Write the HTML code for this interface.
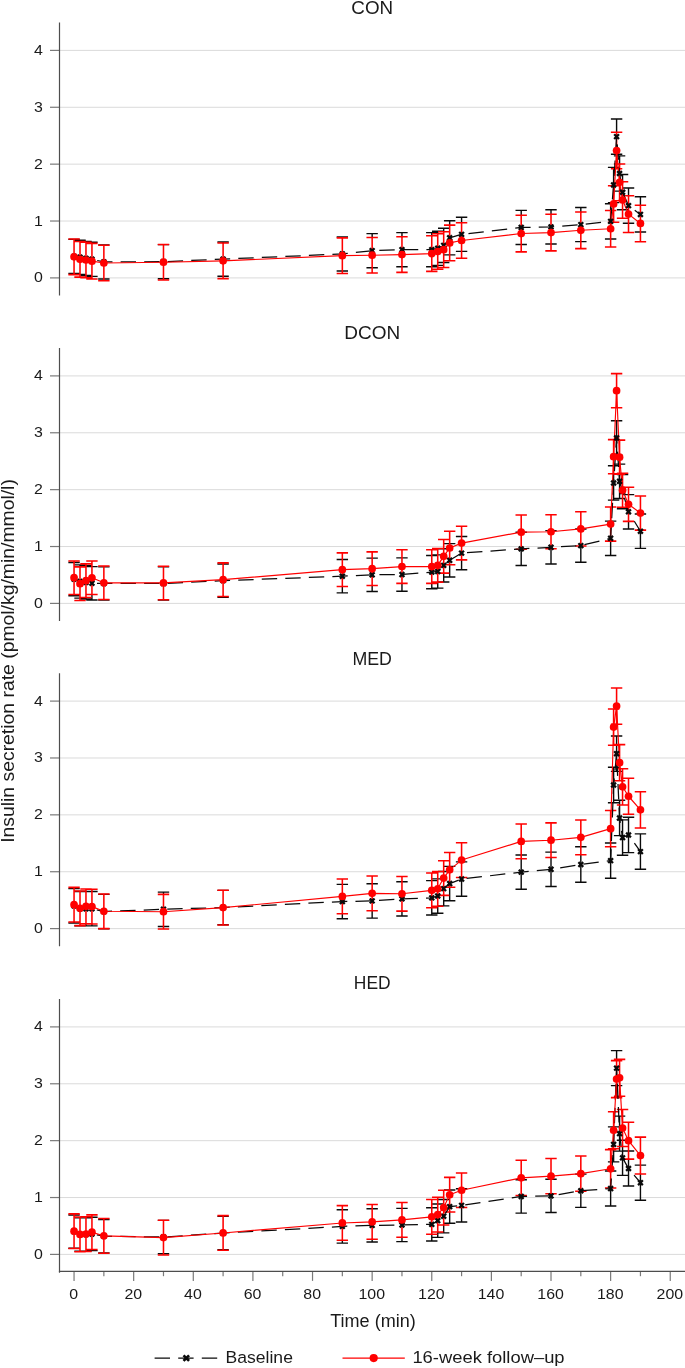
<!DOCTYPE html>
<html lang="en">
<head>
<meta charset="utf-8">
<title>Insulin secretion rate</title>
<style>
html,body{margin:0;padding:0;background:#fff;}
body{width:685px;height:1368px;overflow:hidden;}
svg{display:block;will-change:transform;}
text{font-family:"Liberation Sans", sans-serif;fill:#1a1a1a;}
.tk{font-size:14.6px;}
.tt{font-size:18.6px;}
.al{font-size:17.5px;}
.yl{font-size:18px;}
.lg{font-size:17.4px;}
</style>
</head>
<body>
<svg width="685" height="1368" viewBox="0 0 685 1368">
<rect x="0" y="0" width="685" height="1368" fill="#ffffff"/>
<g>
<g stroke="#d6d6d6" stroke-width="0.9" fill="none">
<line x1="59.5" y1="277.9" x2="685" y2="277.9"/>
<line x1="59.5" y1="221.02" x2="685" y2="221.02"/>
<line x1="59.5" y1="164.15" x2="685" y2="164.15"/>
<line x1="59.5" y1="107.27" x2="685" y2="107.27"/>
<line x1="59.5" y1="50.4" x2="685" y2="50.4"/>
</g>
<g stroke="#7a7a7a" stroke-width="1.2" fill="none">
<line x1="50" y1="277.9" x2="59.5" y2="277.9"/>
<line x1="50" y1="221.02" x2="59.5" y2="221.02"/>
<line x1="50" y1="164.15" x2="59.5" y2="164.15"/>
<line x1="50" y1="107.27" x2="59.5" y2="107.27"/>
<line x1="50" y1="50.4" x2="59.5" y2="50.4"/>
</g>
<line x1="59.5" y1="22.53" x2="59.5" y2="295.53" stroke="#4d4d4d" stroke-width="1.2"/>
<text class="tk" transform="translate(42.8 282.4) scale(1.09 1)" text-anchor="end">0</text>
<text class="tk" transform="translate(42.8 225.52) scale(1.09 1)" text-anchor="end">1</text>
<text class="tk" transform="translate(42.8 168.65) scale(1.09 1)" text-anchor="end">2</text>
<text class="tk" transform="translate(42.8 111.77) scale(1.09 1)" text-anchor="end">3</text>
<text class="tk" transform="translate(42.8 54.9) scale(1.09 1)" text-anchor="end">4</text>
<text class="tt" x="372.2" y="13.7" text-anchor="middle" textLength="41.8" lengthAdjust="spacingAndGlyphs">CON</text>
<path stroke="#0a0a0a" fill="none" stroke-width="1.4" d="M68.35 239.34H79.75M68.35 273.46H79.75M74.05 239.34V239.4M74.31 240.25H85.71M74.31 274.37H85.71M80.01 240.25V241.9M80.27 241.39H91.67M80.27 275.51H91.67M85.97 241.39V242.58M86.24 242.24H97.64M86.24 276.36H97.64M91.94 242.24V243.78M98.16 244.91H109.56M98.16 279.04H109.56M103.86 244.91V245.6M157.78 244.63H169.18M157.78 278.75H169.18M163.48 244.63V244.8M217.4 242.07H228.8M217.4 276.19H228.8M223.1 242.07V243.44M336.64 236.89H348.04M336.64 271.02H348.04M342.34 236.89V238.26M366.45 233.65H377.85M366.45 267.78H377.85M372.15 233.65V237.8M396.26 232.63H407.66M396.26 266.75H407.66M401.96 232.63V237.18M426.07 232.63H437.47M426.07 266.75H437.47M431.77 232.63V236.16M432.03 231.26H443.43M432.03 265.39H443.43M437.73 231.26V234.11M437.99 228.3H449.39M437.99 262.43H449.39M443.69 228.3V232.23M443.96 220.74H455.36M443.96 254.87H455.36M449.66 220.74V225.52M455.88 217.27H467.28M455.88 251.4H467.28M461.58 217.27V223.07M515.5 210.39H526.9M515.5 244.51H526.9M521.2 210.39V215.62M545.31 209.82H556.71M545.31 243.95H556.71M551.01 209.82V214.66M575.12 207.55H586.52M575.12 241.67H586.52M580.82 207.55V212.38M604.93 203.73H616.33M604.93 239H616.33M610.63 203.73V210.85M607.91 167.33H619.31M607.91 202.6H619.31M613.61 167.33V186.05M610.89 118.99H622.29M610.89 154.25H622.29M616.59 118.99V132.59M613.87 155.85H625.27M613.87 191.11H625.27M619.57 155.85V164.44M616.85 174.56H628.25M616.85 209.82H628.25M622.55 174.56V182.07M622.82 188.04H634.22M622.82 223.3H634.22M628.52 188.04V196.17M634.74 196.8H646.14M634.74 232.06H646.14M640.44 196.8V205.56"/>
<path stroke="#ff0000" fill="none" stroke-width="1.55" d="M68.35 239H79.75M68.35 274.6H79.75M74.05 239V274.6M74.31 241.5H85.71M74.31 277.1H85.71M80.01 241.5V277.1M80.27 242.18H91.67M80.27 277.79H91.67M85.97 242.18V277.79M86.24 243.38H97.64M86.24 278.98H97.64M91.94 243.38V278.98M98.16 245.2H109.56M98.16 280.8H109.56M103.86 245.2V280.8M157.78 244.4H169.18M157.78 280H169.18M163.48 244.4V280M217.4 243.04H228.8M217.4 278.64H228.8M223.1 243.04V278.64M336.64 237.86H348.04M336.64 273.46H348.04M342.34 237.86V273.46M366.45 237.4H377.85M366.45 273.01H377.85M372.15 237.4V273.01M396.26 236.78H407.66M396.26 272.38H407.66M401.96 236.78V272.38M426.07 235.76H437.47M426.07 271.36H437.47M431.77 235.76V271.36M432.03 233.71H443.43M432.03 269.31H443.43M437.73 233.71V269.31M437.99 231.83H449.39M437.99 267.44H449.39M443.69 231.83V267.44M443.96 225.12H455.36M443.96 260.72H455.36M449.66 225.12V260.72M455.88 222.67H467.28M455.88 258.28H467.28M461.58 222.67V258.28M515.5 215.22H526.9M515.5 251.85H526.9M521.2 215.22V251.85M545.31 214.26H556.71M545.31 250.88H556.71M551.01 214.26V250.88M575.12 211.98H586.52M575.12 248.61H586.52M580.82 211.98V248.61M604.93 210.45H616.33M604.93 247.07H616.33M610.63 210.45V247.07M607.91 185.65H619.31M607.91 222.28H619.31M613.61 185.65V222.28M610.89 132.19H622.29M610.89 168.81H622.29M616.59 132.19V168.81M613.87 164.04H625.27M613.87 200.66H625.27M619.57 164.04V200.66M616.85 181.67H628.25M616.85 218.29H628.25M622.55 181.67V218.29M622.82 195.77H634.22M622.82 232.4H634.22M628.52 195.77V232.4M634.74 205.16H646.14M634.74 241.78H646.14M640.44 205.16V241.78"/>
<g stroke="#0a0a0a" fill="none">
<polyline stroke-width="1.25" stroke-linejoin="round" stroke-dasharray="15.4 8.15" points="74.05,256.4 80.01,257.31 85.97,258.45 91.94,259.3 103.86,261.97 163.48,261.69 223.1,259.13 342.34,253.96 372.15,250.71 401.96,249.69 431.77,249.69 437.73,248.32 443.69,245.37 449.66,237.8 461.58,234.33 521.2,227.45 551.01,226.88 580.82,224.61 610.63,221.37 613.61,184.97 616.59,136.62 619.57,173.48 622.55,192.19 628.52,205.67"/>
<line stroke-width="1.25" stroke-dasharray="15.4 8.15" stroke-dashoffset="15.85" x1="628.52" y1="205.67" x2="640.44" y2="214.43"/>
</g>
<g stroke="#ff0000" fill="none">
<polyline stroke-width="1.15" stroke-linejoin="round" points="74.05,256.8 80.01,259.3 85.97,259.98 91.94,261.18 103.86,263 163.48,262.2 223.1,260.84 342.34,255.66 372.15,255.21 401.96,254.58 431.77,253.56 437.73,251.51 443.69,249.63 449.66,242.92 461.58,240.48 521.2,233.54 551.01,232.57 580.82,230.3 610.63,228.76 613.61,203.96 616.59,150.5 619.57,182.35 622.55,199.98 628.52,214.09 640.44,223.47"/>
</g>
<g fill="#0a0a0a" stroke="none">
<polygon points="74.05,258 75.65,259.6 77.25,258 75.65,256.4 77.25,254.8 75.65,253.2 74.05,254.8 72.45,253.2 70.85,254.8 72.45,256.4 70.85,258 72.45,259.6"/><polygon points="80.01,258.91 81.61,260.51 83.21,258.91 81.61,257.31 83.21,255.71 81.61,254.11 80.01,255.71 78.41,254.11 76.81,255.71 78.41,257.31 76.81,258.91 78.41,260.51"/><polygon points="85.97,260.05 87.57,261.65 89.17,260.05 87.57,258.45 89.17,256.85 87.57,255.25 85.97,256.85 84.37,255.25 82.77,256.85 84.37,258.45 82.77,260.05 84.37,261.65"/><polygon points="91.94,260.9 93.54,262.5 95.14,260.9 93.54,259.3 95.14,257.7 93.54,256.1 91.94,257.7 90.34,256.1 88.74,257.7 90.34,259.3 88.74,260.9 90.34,262.5"/><polygon points="103.86,263.57 105.46,265.17 107.06,263.57 105.46,261.97 107.06,260.37 105.46,258.77 103.86,260.37 102.26,258.77 100.66,260.37 102.26,261.97 100.66,263.57 102.26,265.17"/><polygon points="163.48,263.29 165.08,264.89 166.68,263.29 165.08,261.69 166.68,260.09 165.08,258.49 163.48,260.09 161.88,258.49 160.28,260.09 161.88,261.69 160.28,263.29 161.88,264.89"/><polygon points="223.1,260.73 224.7,262.33 226.3,260.73 224.7,259.13 226.3,257.53 224.7,255.93 223.1,257.53 221.5,255.93 219.9,257.53 221.5,259.13 219.9,260.73 221.5,262.33"/><polygon points="342.34,255.56 343.94,257.16 345.54,255.56 343.94,253.96 345.54,252.36 343.94,250.76 342.34,252.36 340.74,250.76 339.14,252.36 340.74,253.96 339.14,255.56 340.74,257.16"/><polygon points="372.15,252.31 373.75,253.91 375.35,252.31 373.75,250.71 375.35,249.11 373.75,247.51 372.15,249.11 370.55,247.51 368.95,249.11 370.55,250.71 368.95,252.31 370.55,253.91"/><polygon points="401.96,251.29 403.56,252.89 405.16,251.29 403.56,249.69 405.16,248.09 403.56,246.49 401.96,248.09 400.36,246.49 398.76,248.09 400.36,249.69 398.76,251.29 400.36,252.89"/><polygon points="431.77,251.29 433.37,252.89 434.97,251.29 433.37,249.69 434.97,248.09 433.37,246.49 431.77,248.09 430.17,246.49 428.57,248.09 430.17,249.69 428.57,251.29 430.17,252.89"/><polygon points="437.73,249.92 439.33,251.52 440.93,249.92 439.33,248.32 440.93,246.72 439.33,245.12 437.73,246.72 436.13,245.12 434.53,246.72 436.13,248.32 434.53,249.92 436.13,251.52"/><polygon points="443.69,246.97 445.29,248.57 446.89,246.97 445.29,245.37 446.89,243.77 445.29,242.17 443.69,243.77 442.09,242.17 440.49,243.77 442.09,245.37 440.49,246.97 442.09,248.57"/><polygon points="449.66,239.4 451.26,241 452.86,239.4 451.26,237.8 452.86,236.2 451.26,234.6 449.66,236.2 448.06,234.6 446.46,236.2 448.06,237.8 446.46,239.4 448.06,241"/><polygon points="461.58,235.93 463.18,237.53 464.78,235.93 463.18,234.33 464.78,232.73 463.18,231.13 461.58,232.73 459.98,231.13 458.38,232.73 459.98,234.33 458.38,235.93 459.98,237.53"/><polygon points="521.2,229.05 522.8,230.65 524.4,229.05 522.8,227.45 524.4,225.85 522.8,224.25 521.2,225.85 519.6,224.25 518,225.85 519.6,227.45 518,229.05 519.6,230.65"/><polygon points="551.01,228.48 552.61,230.08 554.21,228.48 552.61,226.88 554.21,225.28 552.61,223.68 551.01,225.28 549.41,223.68 547.81,225.28 549.41,226.88 547.81,228.48 549.41,230.08"/><polygon points="580.82,226.21 582.42,227.81 584.02,226.21 582.42,224.61 584.02,223.01 582.42,221.41 580.82,223.01 579.22,221.41 577.62,223.01 579.22,224.61 577.62,226.21 579.22,227.81"/><polygon points="610.63,222.97 612.23,224.57 613.83,222.97 612.23,221.37 613.83,219.77 612.23,218.17 610.63,219.77 609.03,218.17 607.43,219.77 609.03,221.37 607.43,222.97 609.03,224.57"/><polygon points="613.61,186.57 615.21,188.17 616.81,186.57 615.21,184.97 616.81,183.37 615.21,181.77 613.61,183.37 612.01,181.77 610.41,183.37 612.01,184.97 610.41,186.57 612.01,188.17"/><polygon points="616.59,138.22 618.19,139.82 619.79,138.22 618.19,136.62 619.79,135.02 618.19,133.42 616.59,135.02 614.99,133.42 613.39,135.02 614.99,136.62 613.39,138.22 614.99,139.82"/><polygon points="619.57,175.08 621.17,176.68 622.77,175.08 621.17,173.48 622.77,171.88 621.17,170.28 619.57,171.88 617.97,170.28 616.37,171.88 617.97,173.48 616.37,175.08 617.97,176.68"/><polygon points="622.55,193.79 624.15,195.39 625.75,193.79 624.15,192.19 625.75,190.59 624.15,188.99 622.55,190.59 620.95,188.99 619.35,190.59 620.95,192.19 619.35,193.79 620.95,195.39"/><polygon points="628.52,207.27 630.12,208.87 631.72,207.27 630.12,205.67 631.72,204.07 630.12,202.47 628.52,204.07 626.92,202.47 625.32,204.07 626.92,205.67 625.32,207.27 626.92,208.87"/><polygon points="640.44,216.03 642.04,217.63 643.64,216.03 642.04,214.43 643.64,212.83 642.04,211.23 640.44,212.83 638.84,211.23 637.24,212.83 638.84,214.43 637.24,216.03 638.84,217.63"/>
</g>
<g fill="#ff0000" stroke="none">
<circle cx="74.05" cy="256.8" r="3.85"/><circle cx="80.01" cy="259.3" r="3.85"/><circle cx="85.97" cy="259.98" r="3.85"/><circle cx="91.94" cy="261.18" r="3.85"/><circle cx="103.86" cy="263" r="3.85"/><circle cx="163.48" cy="262.2" r="3.85"/><circle cx="223.1" cy="260.84" r="3.85"/><circle cx="342.34" cy="255.66" r="3.85"/><circle cx="372.15" cy="255.21" r="3.85"/><circle cx="401.96" cy="254.58" r="3.85"/><circle cx="431.77" cy="253.56" r="3.85"/><circle cx="437.73" cy="251.51" r="3.85"/><circle cx="443.69" cy="249.63" r="3.85"/><circle cx="449.66" cy="242.92" r="3.85"/><circle cx="461.58" cy="240.48" r="3.85"/><circle cx="521.2" cy="233.54" r="3.85"/><circle cx="551.01" cy="232.57" r="3.85"/><circle cx="580.82" cy="230.3" r="3.85"/><circle cx="610.63" cy="228.76" r="3.85"/><circle cx="613.61" cy="203.96" r="3.85"/><circle cx="616.59" cy="150.5" r="3.85"/><circle cx="619.57" cy="182.35" r="3.85"/><circle cx="622.55" cy="199.98" r="3.85"/><circle cx="628.52" cy="214.09" r="3.85"/><circle cx="640.44" cy="223.47" r="3.85"/>
</g>
</g>
<g>
<g stroke="#d6d6d6" stroke-width="0.9" fill="none">
<line x1="59.5" y1="603.4" x2="685" y2="603.4"/>
<line x1="59.5" y1="546.52" x2="685" y2="546.52"/>
<line x1="59.5" y1="489.65" x2="685" y2="489.65"/>
<line x1="59.5" y1="432.77" x2="685" y2="432.77"/>
<line x1="59.5" y1="375.9" x2="685" y2="375.9"/>
</g>
<g stroke="#7a7a7a" stroke-width="1.2" fill="none">
<line x1="50" y1="603.4" x2="59.5" y2="603.4"/>
<line x1="50" y1="546.52" x2="59.5" y2="546.52"/>
<line x1="50" y1="489.65" x2="59.5" y2="489.65"/>
<line x1="50" y1="432.77" x2="59.5" y2="432.77"/>
<line x1="50" y1="375.9" x2="59.5" y2="375.9"/>
</g>
<line x1="59.5" y1="348.03" x2="59.5" y2="621.03" stroke="#4d4d4d" stroke-width="1.2"/>
<text class="tk" transform="translate(42.8 607.9) scale(1.09 1)" text-anchor="end">0</text>
<text class="tk" transform="translate(42.8 551.02) scale(1.09 1)" text-anchor="end">1</text>
<text class="tk" transform="translate(42.8 494.15) scale(1.09 1)" text-anchor="end">2</text>
<text class="tk" transform="translate(42.8 437.27) scale(1.09 1)" text-anchor="end">3</text>
<text class="tk" transform="translate(42.8 380.4) scale(1.09 1)" text-anchor="end">4</text>
<text class="tt" x="372.2" y="339.3" text-anchor="middle" textLength="55.9" lengthAdjust="spacingAndGlyphs">DCON</text>
<path stroke="#0a0a0a" fill="none" stroke-width="1.4" d="M68.35 562.45H79.75M68.35 595.78H79.75M74.05 594.07V595.78M74.31 564.84H85.71M74.31 598.17H85.71M80.01 564.84V567.29M80.27 565.69H91.67M80.27 599.02H91.67M85.97 597.03V599.02M86.24 566.6H97.64M86.24 599.93H97.64M91.94 594.13V599.93M98.16 566.83H109.56M98.16 600.16H109.56M103.86 599.19V600.16M157.78 566.83H169.18M157.78 600.16H169.18M163.48 599.3V600.16M217.4 563.99H228.8M217.4 597.31H228.8M223.1 596V597.31M336.64 559.55H348.04M336.64 592.88H348.04M342.34 586.05V592.88M366.45 558.13H377.85M366.45 591.46H377.85M372.15 585.03V591.46M396.26 557.9H407.66M396.26 591.23H407.66M401.96 582.98V591.23M426.07 555.45H437.47M426.07 588.78H437.47M431.77 582.98V588.78M432.03 554.83H443.43M432.03 588.16H443.43M437.73 581.73V588.16M437.99 548.69H449.39M437.99 582.01H449.39M443.69 572.74V582.01M443.96 543.62H455.36M443.96 576.95H455.36M449.66 564.38V576.95M455.88 536.46H467.28M455.88 569.79H467.28M461.58 559.49V569.79M515.5 532.19H526.9M515.5 565.52H526.9M521.2 548.8V565.52M545.31 530.66H556.71M545.31 563.99H556.71M551.01 548.4V563.99M575.12 528.95H586.52M575.12 562.28H586.52M580.82 545.56V562.28M604.93 521.1H616.33M604.93 555.45H616.33M610.63 540.72V555.45M607.91 465.82H619.31M607.91 500.17H619.31M613.61 473.32V500.17M610.89 420.72H622.29M610.89 455.07H622.29M616.59 420.72V455.07M613.87 464.11H625.27M613.87 498.47H625.27M619.57 473.84V498.47M616.85 474.46H628.25M616.85 508.82H628.25M622.55 506.88V508.82M622.82 494.6H634.22M622.82 528.95H634.22M628.52 520.99V528.95M634.74 514.05H646.14M634.74 548.4H646.14M640.44 529.75V548.4"/>
<path stroke="#ff0000" fill="none" stroke-width="1.55" d="M68.35 560.91H79.75M68.35 594.47H79.75M74.05 560.91V594.47M74.31 566.89H85.71M74.31 600.44H85.71M80.01 566.89V600.44M80.27 563.87H91.67M80.27 597.43H91.67M85.97 563.87V597.43M86.24 560.97H97.64M86.24 594.53H97.64M91.94 560.97V594.53M98.16 566.03H109.56M98.16 599.59H109.56M103.86 566.03V599.59M157.78 566.15H169.18M157.78 599.7H169.18M163.48 566.15V599.7M217.4 562.85H228.8M217.4 596.4H228.8M223.1 562.85V596.4M336.64 552.89H348.04M336.64 586.45H348.04M342.34 552.89V586.45M366.45 551.87H377.85M366.45 585.43H377.85M372.15 551.87V585.43M396.26 549.82H407.66M396.26 583.38H407.66M401.96 549.82V583.38M426.07 549.82H437.47M426.07 583.38H437.47M431.77 549.82V583.38M432.03 548.57H443.43M432.03 582.13H443.43M437.73 548.57V582.13M437.99 539.59H449.39M437.99 573.14H449.39M443.69 539.59V573.14M443.96 531.23H455.36M443.96 564.78H455.36M449.66 531.23V564.78M455.88 526.33H467.28M455.88 559.89H467.28M461.58 526.33V559.89M515.5 515.07H526.9M515.5 549.2H526.9M521.2 515.07V549.2M545.31 514.67H556.71M545.31 548.8H556.71M551.01 514.67V548.8M575.12 511.83H586.52M575.12 545.96H586.52M580.82 511.83V545.96M604.93 507H616.33M604.93 541.12H616.33M610.63 507V541.12M607.91 439.6H619.31M607.91 473.72H619.31M613.61 439.6V473.72M610.89 373.62H622.29M610.89 407.75H622.29M616.59 373.62V407.75M613.87 440.11H625.27M613.87 474.24H625.27M619.57 440.11V474.24M616.85 473.16H628.25M616.85 507.28H628.25M622.55 473.16V507.28M622.82 487.26H634.22M622.82 521.39H634.22M628.52 487.26V521.39M634.74 496.02H646.14M634.74 530.14H646.14M640.44 496.02V530.14"/>
<g stroke="#0a0a0a" fill="none">
<polyline stroke-width="1.25" stroke-linejoin="round" stroke-dasharray="15.4 8.15" points="74.05,579.11 80.01,581.5 85.97,582.36 91.94,583.27 103.86,583.49 163.48,583.49 223.1,580.65 342.34,576.21 372.15,574.79 401.96,574.56 431.77,572.12 437.73,571.49 443.69,565.35 449.66,560.29 461.58,553.12 521.2,548.86 551.01,547.32 580.82,545.62 610.63,538.28 613.61,483 616.59,437.89 619.57,481.29 622.55,491.64 628.52,511.77"/>
<line stroke-width="1.25" stroke-dasharray="15.4 8.15" stroke-dashoffset="12.45" x1="628.52" y1="511.77" x2="640.44" y2="531.23"/>
</g>
<g stroke="#ff0000" fill="none">
<polyline stroke-width="1.15" stroke-linejoin="round" points="74.05,577.69 80.01,583.66 85.97,580.65 91.94,577.75 103.86,582.81 163.48,582.92 223.1,579.63 342.34,569.67 372.15,568.65 401.96,566.6 431.77,566.6 437.73,565.35 443.69,556.36 449.66,548 461.58,543.11 521.2,532.14 551.01,531.74 580.82,528.89 610.63,524.06 613.61,456.66 616.59,390.69 619.57,457.17 622.55,490.22 628.52,504.32 640.44,513.08"/>
</g>
<g fill="#0a0a0a" stroke="none">
<polygon points="74.05,580.71 75.65,582.31 77.25,580.71 75.65,579.11 77.25,577.51 75.65,575.91 74.05,577.51 72.45,575.91 70.85,577.51 72.45,579.11 70.85,580.71 72.45,582.31"/><polygon points="80.01,583.1 81.61,584.7 83.21,583.1 81.61,581.5 83.21,579.9 81.61,578.3 80.01,579.9 78.41,578.3 76.81,579.9 78.41,581.5 76.81,583.1 78.41,584.7"/><polygon points="85.97,583.96 87.57,585.56 89.17,583.96 87.57,582.36 89.17,580.76 87.57,579.16 85.97,580.76 84.37,579.16 82.77,580.76 84.37,582.36 82.77,583.96 84.37,585.56"/><polygon points="91.94,584.87 93.54,586.47 95.14,584.87 93.54,583.27 95.14,581.67 93.54,580.07 91.94,581.67 90.34,580.07 88.74,581.67 90.34,583.27 88.74,584.87 90.34,586.47"/><polygon points="103.86,585.09 105.46,586.69 107.06,585.09 105.46,583.49 107.06,581.89 105.46,580.29 103.86,581.89 102.26,580.29 100.66,581.89 102.26,583.49 100.66,585.09 102.26,586.69"/><polygon points="163.48,585.09 165.08,586.69 166.68,585.09 165.08,583.49 166.68,581.89 165.08,580.29 163.48,581.89 161.88,580.29 160.28,581.89 161.88,583.49 160.28,585.09 161.88,586.69"/><polygon points="223.1,582.25 224.7,583.85 226.3,582.25 224.7,580.65 226.3,579.05 224.7,577.45 223.1,579.05 221.5,577.45 219.9,579.05 221.5,580.65 219.9,582.25 221.5,583.85"/><polygon points="342.34,577.81 343.94,579.41 345.54,577.81 343.94,576.21 345.54,574.61 343.94,573.01 342.34,574.61 340.74,573.01 339.14,574.61 340.74,576.21 339.14,577.81 340.74,579.41"/><polygon points="372.15,576.39 373.75,577.99 375.35,576.39 373.75,574.79 375.35,573.19 373.75,571.59 372.15,573.19 370.55,571.59 368.95,573.19 370.55,574.79 368.95,576.39 370.55,577.99"/><polygon points="401.96,576.16 403.56,577.76 405.16,576.16 403.56,574.56 405.16,572.96 403.56,571.36 401.96,572.96 400.36,571.36 398.76,572.96 400.36,574.56 398.76,576.16 400.36,577.76"/><polygon points="431.77,573.72 433.37,575.32 434.97,573.72 433.37,572.12 434.97,570.52 433.37,568.92 431.77,570.52 430.17,568.92 428.57,570.52 430.17,572.12 428.57,573.72 430.17,575.32"/><polygon points="437.73,573.09 439.33,574.69 440.93,573.09 439.33,571.49 440.93,569.89 439.33,568.29 437.73,569.89 436.13,568.29 434.53,569.89 436.13,571.49 434.53,573.09 436.13,574.69"/><polygon points="443.69,566.95 445.29,568.55 446.89,566.95 445.29,565.35 446.89,563.75 445.29,562.15 443.69,563.75 442.09,562.15 440.49,563.75 442.09,565.35 440.49,566.95 442.09,568.55"/><polygon points="449.66,561.89 451.26,563.49 452.86,561.89 451.26,560.29 452.86,558.69 451.26,557.09 449.66,558.69 448.06,557.09 446.46,558.69 448.06,560.29 446.46,561.89 448.06,563.49"/><polygon points="461.58,554.72 463.18,556.32 464.78,554.72 463.18,553.12 464.78,551.52 463.18,549.92 461.58,551.52 459.98,549.92 458.38,551.52 459.98,553.12 458.38,554.72 459.98,556.32"/><polygon points="521.2,550.46 522.8,552.06 524.4,550.46 522.8,548.86 524.4,547.26 522.8,545.66 521.2,547.26 519.6,545.66 518,547.26 519.6,548.86 518,550.46 519.6,552.06"/><polygon points="551.01,548.92 552.61,550.52 554.21,548.92 552.61,547.32 554.21,545.72 552.61,544.12 551.01,545.72 549.41,544.12 547.81,545.72 549.41,547.32 547.81,548.92 549.41,550.52"/><polygon points="580.82,547.22 582.42,548.82 584.02,547.22 582.42,545.62 584.02,544.01 582.42,542.41 580.82,544.01 579.22,542.41 577.62,544.01 579.22,545.62 577.62,547.22 579.22,548.82"/><polygon points="610.63,539.88 612.23,541.48 613.83,539.88 612.23,538.28 613.83,536.68 612.23,535.08 610.63,536.68 609.03,535.08 607.43,536.68 609.03,538.28 607.43,539.88 609.03,541.48"/><polygon points="613.61,484.6 615.21,486.2 616.81,484.6 615.21,483 616.81,481.4 615.21,479.8 613.61,481.4 612.01,479.8 610.41,481.4 612.01,483 610.41,484.6 612.01,486.2"/><polygon points="616.59,439.49 618.19,441.09 619.79,439.49 618.19,437.89 619.79,436.29 618.19,434.69 616.59,436.29 614.99,434.69 613.39,436.29 614.99,437.89 613.39,439.49 614.99,441.09"/><polygon points="619.57,482.89 621.17,484.49 622.77,482.89 621.17,481.29 622.77,479.69 621.17,478.09 619.57,479.69 617.97,478.09 616.37,479.69 617.97,481.29 616.37,482.89 617.97,484.49"/><polygon points="622.55,493.24 624.15,494.84 625.75,493.24 624.15,491.64 625.75,490.04 624.15,488.44 622.55,490.04 620.95,488.44 619.35,490.04 620.95,491.64 619.35,493.24 620.95,494.84"/><polygon points="628.52,513.37 630.12,514.97 631.72,513.37 630.12,511.77 631.72,510.17 630.12,508.57 628.52,510.17 626.92,508.57 625.32,510.17 626.92,511.77 625.32,513.37 626.92,514.97"/><polygon points="640.44,532.83 642.04,534.43 643.64,532.83 642.04,531.23 643.64,529.63 642.04,528.03 640.44,529.63 638.84,528.03 637.24,529.63 638.84,531.23 637.24,532.83 638.84,534.43"/>
</g>
<g fill="#ff0000" stroke="none">
<circle cx="74.05" cy="577.69" r="3.85"/><circle cx="80.01" cy="583.66" r="3.85"/><circle cx="85.97" cy="580.65" r="3.85"/><circle cx="91.94" cy="577.75" r="3.85"/><circle cx="103.86" cy="582.81" r="3.85"/><circle cx="163.48" cy="582.92" r="3.85"/><circle cx="223.1" cy="579.63" r="3.85"/><circle cx="342.34" cy="569.67" r="3.85"/><circle cx="372.15" cy="568.65" r="3.85"/><circle cx="401.96" cy="566.6" r="3.85"/><circle cx="431.77" cy="566.6" r="3.85"/><circle cx="437.73" cy="565.35" r="3.85"/><circle cx="443.69" cy="556.36" r="3.85"/><circle cx="449.66" cy="548" r="3.85"/><circle cx="461.58" cy="543.11" r="3.85"/><circle cx="521.2" cy="532.14" r="3.85"/><circle cx="551.01" cy="531.74" r="3.85"/><circle cx="580.82" cy="528.89" r="3.85"/><circle cx="610.63" cy="524.06" r="3.85"/><circle cx="613.61" cy="456.66" r="3.85"/><circle cx="616.59" cy="390.69" r="3.85"/><circle cx="619.57" cy="457.17" r="3.85"/><circle cx="622.55" cy="490.22" r="3.85"/><circle cx="628.52" cy="504.32" r="3.85"/><circle cx="640.44" cy="513.08" r="3.85"/>
</g>
</g>
<g>
<g stroke="#d6d6d6" stroke-width="0.9" fill="none">
<line x1="59.5" y1="928.6" x2="685" y2="928.6"/>
<line x1="59.5" y1="871.73" x2="685" y2="871.73"/>
<line x1="59.5" y1="814.85" x2="685" y2="814.85"/>
<line x1="59.5" y1="757.98" x2="685" y2="757.98"/>
<line x1="59.5" y1="701.1" x2="685" y2="701.1"/>
</g>
<g stroke="#7a7a7a" stroke-width="1.2" fill="none">
<line x1="50" y1="928.6" x2="59.5" y2="928.6"/>
<line x1="50" y1="871.73" x2="59.5" y2="871.73"/>
<line x1="50" y1="814.85" x2="59.5" y2="814.85"/>
<line x1="50" y1="757.98" x2="59.5" y2="757.98"/>
<line x1="50" y1="701.1" x2="59.5" y2="701.1"/>
</g>
<line x1="59.5" y1="673.23" x2="59.5" y2="946.23" stroke="#4d4d4d" stroke-width="1.2"/>
<text class="tk" transform="translate(42.8 933.1) scale(1.09 1)" text-anchor="end">0</text>
<text class="tk" transform="translate(42.8 876.23) scale(1.09 1)" text-anchor="end">1</text>
<text class="tk" transform="translate(42.8 819.35) scale(1.09 1)" text-anchor="end">2</text>
<text class="tk" transform="translate(42.8 762.48) scale(1.09 1)" text-anchor="end">3</text>
<text class="tk" transform="translate(42.8 705.6) scale(1.09 1)" text-anchor="end">4</text>
<text class="tt" x="372.2" y="665" text-anchor="middle" textLength="39.5" lengthAdjust="spacingAndGlyphs">MED</text>
<path stroke="#0a0a0a" fill="none" stroke-width="1.4" d="M68.35 888.67H79.75M68.35 923.03H79.75M74.05 921.66V923.03M74.31 891.52H85.71M74.31 925.87H85.71M80.01 925.24V925.87M80.27 891.52H91.67M80.27 925.87H91.67M85.97 923.25V925.87M86.24 891.52H97.64M86.24 925.87H97.64M91.94 923.54V925.87M98.16 894.36H109.56M98.16 928.71H109.56M103.86 928.2V928.71M157.78 892.09H169.18M157.78 926.44H169.18M163.48 892.09V894.76M217.4 890.38H228.8M217.4 924.73H228.8M223.1 890.38V890.67M223.1 924.56V924.73M336.64 884.35H348.04M336.64 918.7H348.04M342.34 913.36V918.7M366.45 883.73H377.85M366.45 918.08H377.85M372.15 910.28V918.08M396.26 881.68H407.66M396.26 916.03H407.66M401.96 910.74V916.03M426.07 880.65H437.47M426.07 915.01H437.47M431.77 907.27V915.01M432.03 878.83H443.43M432.03 913.19H443.43M437.73 905.79V913.19M437.99 871.5H449.39M437.99 905.85H449.39M443.69 894.99V905.85M443.96 866.38H455.36M443.96 900.73H455.36M449.66 886.8V900.73M455.88 861.89H467.28M455.88 896.24H467.28M461.58 877.01V896.24M515.5 854.95H526.9M515.5 889.3H526.9M521.2 858.36V889.3M545.31 852.1H556.71M545.31 886.46H556.71M551.01 857.16V886.46M575.12 846.81H586.52M575.12 882.19H586.52M580.82 854.32V882.19M604.93 842.95H616.33M604.93 878.32H616.33M610.63 846.36V878.32M607.91 767.3H619.31M607.91 802.68H619.31M613.61 767.3V802.68M610.89 736.02H622.29M610.89 771.4H622.29M616.59 736.02V771.4M613.87 800.29H625.27M613.87 835.67H625.27M619.57 800.29V835.67M616.85 819.86H628.25M616.85 855.23H628.25M622.55 819.86V855.23M622.82 817.3H634.22M622.82 852.67H634.22M628.52 817.3V852.67M634.74 833.9H646.14M634.74 869.28H646.14M640.44 833.9V869.28"/>
<path stroke="#ff0000" fill="none" stroke-width="1.55" d="M68.35 887.37H79.75M68.35 922.06H79.75M74.05 887.37V922.06M74.31 890.95H85.71M74.31 925.64H85.71M80.01 890.95V925.64M80.27 888.96H91.67M80.27 923.65H91.67M85.97 888.96V923.65M86.24 889.24H97.64M86.24 923.94H97.64M91.94 889.24V923.94M98.16 893.91H109.56M98.16 928.6H109.56M103.86 893.91V928.6M157.78 894.36H169.18M157.78 929.06H169.18M163.48 894.36V929.06M217.4 890.27H228.8M217.4 924.96H228.8M223.1 890.27V924.96M336.64 879.06H348.04M336.64 913.76H348.04M342.34 879.06V913.76M366.45 875.99H377.85M366.45 910.68H377.85M372.15 875.99V910.68M396.26 876.45H407.66M396.26 911.14H407.66M401.96 876.45V911.14M426.07 872.98H437.47M426.07 907.67H437.47M431.77 872.98V907.67M432.03 871.5H443.43M432.03 906.19H443.43M437.73 871.5V906.19M437.99 860.69H449.39M437.99 895.38H449.39M443.69 860.69V895.38M443.96 852.5H455.36M443.96 887.2H455.36M449.66 852.5V887.2M455.88 842.72H467.28M455.88 877.41H467.28M461.58 842.72V877.41M515.5 824.06H526.9M515.5 858.76H526.9M521.2 824.06V858.76M545.31 822.87H556.71M545.31 857.56H556.71M551.01 822.87V857.56M575.12 820.03H586.52M575.12 854.72H586.52M580.82 820.03V854.72M604.93 810.58H616.33M604.93 846.76H616.33M610.63 810.58V846.76M607.91 709.01H619.31M607.91 745.18H619.31M613.61 709.01V745.18M610.89 688.02H622.29M610.89 724.19H622.29M616.59 688.02V724.19M613.87 744.61H625.27M613.87 780.78H625.27M619.57 744.61V780.78M616.85 768.72H628.25M616.85 804.9H628.25M622.55 768.72V804.9M622.82 778.17H634.22M622.82 814.34H634.22M628.52 778.17V814.34M634.74 791.76H646.14M634.74 827.93H646.14M640.44 791.76V827.93"/>
<g stroke="#0a0a0a" fill="none">
<polyline stroke-width="1.25" stroke-linejoin="round" stroke-dasharray="15.4 8.15" points="74.05,905.85 80.01,908.69 85.97,908.69 91.94,908.69 103.86,911.54 163.48,909.26 223.1,907.56 342.34,901.53 372.15,900.9 401.96,898.85 431.77,897.83 437.73,896.01 443.69,888.67 449.66,883.56 461.58,879.06 521.2,872.12 551.01,869.28 580.82,864.5 610.63,860.63 613.61,784.99 616.59,753.71 619.57,817.98 622.55,837.54 628.52,834.98"/>
<line stroke-width="1.25" stroke-dasharray="15.4 8.15" stroke-dashoffset="13.45" x1="628.52" y1="834.98" x2="640.44" y2="851.59"/>
</g>
<g stroke="#ff0000" fill="none">
<polyline stroke-width="1.15" stroke-linejoin="round" points="74.05,904.71 80.01,908.3 85.97,906.31 91.94,906.59 103.86,911.25 163.48,911.71 223.1,907.61 342.34,896.41 372.15,893.34 401.96,893.79 431.77,890.32 437.73,888.84 443.69,878.04 449.66,869.85 461.58,860.07 521.2,841.41 551.01,840.22 580.82,837.37 610.63,828.67 613.61,727.09 616.59,706.11 619.57,762.7 622.55,786.81 628.52,796.25 640.44,809.85"/>
</g>
<g fill="#0a0a0a" stroke="none">
<polygon points="74.05,907.45 75.65,909.05 77.25,907.45 75.65,905.85 77.25,904.25 75.65,902.65 74.05,904.25 72.45,902.65 70.85,904.25 72.45,905.85 70.85,907.45 72.45,909.05"/><polygon points="80.01,910.29 81.61,911.89 83.21,910.29 81.61,908.69 83.21,907.09 81.61,905.49 80.01,907.09 78.41,905.49 76.81,907.09 78.41,908.69 76.81,910.29 78.41,911.89"/><polygon points="85.97,910.29 87.57,911.89 89.17,910.29 87.57,908.69 89.17,907.09 87.57,905.49 85.97,907.09 84.37,905.49 82.77,907.09 84.37,908.69 82.77,910.29 84.37,911.89"/><polygon points="91.94,910.29 93.54,911.89 95.14,910.29 93.54,908.69 95.14,907.09 93.54,905.49 91.94,907.09 90.34,905.49 88.74,907.09 90.34,908.69 88.74,910.29 90.34,911.89"/><polygon points="103.86,913.14 105.46,914.74 107.06,913.14 105.46,911.54 107.06,909.94 105.46,908.34 103.86,909.94 102.26,908.34 100.66,909.94 102.26,911.54 100.66,913.14 102.26,914.74"/><polygon points="163.48,910.86 165.08,912.46 166.68,910.86 165.08,909.26 166.68,907.66 165.08,906.06 163.48,907.66 161.88,906.06 160.28,907.66 161.88,909.26 160.28,910.86 161.88,912.46"/><polygon points="223.1,909.16 224.7,910.76 226.3,909.16 224.7,907.56 226.3,905.96 224.7,904.36 223.1,905.96 221.5,904.36 219.9,905.96 221.5,907.56 219.9,909.16 221.5,910.76"/><polygon points="342.34,903.13 343.94,904.73 345.54,903.13 343.94,901.53 345.54,899.93 343.94,898.33 342.34,899.93 340.74,898.33 339.14,899.93 340.74,901.53 339.14,903.13 340.74,904.73"/><polygon points="372.15,902.5 373.75,904.1 375.35,902.5 373.75,900.9 375.35,899.3 373.75,897.7 372.15,899.3 370.55,897.7 368.95,899.3 370.55,900.9 368.95,902.5 370.55,904.1"/><polygon points="401.96,900.45 403.56,902.05 405.16,900.45 403.56,898.85 405.16,897.25 403.56,895.65 401.96,897.25 400.36,895.65 398.76,897.25 400.36,898.85 398.76,900.45 400.36,902.05"/><polygon points="431.77,899.43 433.37,901.03 434.97,899.43 433.37,897.83 434.97,896.23 433.37,894.63 431.77,896.23 430.17,894.63 428.57,896.23 430.17,897.83 428.57,899.43 430.17,901.03"/><polygon points="437.73,897.61 439.33,899.21 440.93,897.61 439.33,896.01 440.93,894.41 439.33,892.81 437.73,894.41 436.13,892.81 434.53,894.41 436.13,896.01 434.53,897.61 436.13,899.21"/><polygon points="443.69,890.27 445.29,891.87 446.89,890.27 445.29,888.67 446.89,887.07 445.29,885.47 443.69,887.07 442.09,885.47 440.49,887.07 442.09,888.67 440.49,890.27 442.09,891.87"/><polygon points="449.66,885.16 451.26,886.76 452.86,885.16 451.26,883.56 452.86,881.96 451.26,880.36 449.66,881.96 448.06,880.36 446.46,881.96 448.06,883.56 446.46,885.16 448.06,886.76"/><polygon points="461.58,880.66 463.18,882.26 464.78,880.66 463.18,879.06 464.78,877.46 463.18,875.86 461.58,877.46 459.98,875.86 458.38,877.46 459.98,879.06 458.38,880.66 459.98,882.26"/><polygon points="521.2,873.72 522.8,875.32 524.4,873.72 522.8,872.12 524.4,870.52 522.8,868.92 521.2,870.52 519.6,868.92 518,870.52 519.6,872.12 518,873.72 519.6,875.32"/><polygon points="551.01,870.88 552.61,872.48 554.21,870.88 552.61,869.28 554.21,867.68 552.61,866.08 551.01,867.68 549.41,866.08 547.81,867.68 549.41,869.28 547.81,870.88 549.41,872.48"/><polygon points="580.82,866.1 582.42,867.7 584.02,866.1 582.42,864.5 584.02,862.9 582.42,861.3 580.82,862.9 579.22,861.3 577.62,862.9 579.22,864.5 577.62,866.1 579.22,867.7"/><polygon points="610.63,862.23 612.23,863.83 613.83,862.23 612.23,860.63 613.83,859.03 612.23,857.43 610.63,859.03 609.03,857.43 607.43,859.03 609.03,860.63 607.43,862.23 609.03,863.83"/><polygon points="613.61,786.59 615.21,788.19 616.81,786.59 615.21,784.99 616.81,783.39 615.21,781.79 613.61,783.39 612.01,781.79 610.41,783.39 612.01,784.99 610.41,786.59 612.01,788.19"/><polygon points="616.59,755.31 618.19,756.91 619.79,755.31 618.19,753.71 619.79,752.11 618.19,750.51 616.59,752.11 614.99,750.51 613.39,752.11 614.99,753.71 613.39,755.31 614.99,756.91"/><polygon points="619.57,819.58 621.17,821.18 622.77,819.58 621.17,817.98 622.77,816.38 621.17,814.78 619.57,816.38 617.97,814.78 616.37,816.38 617.97,817.98 616.37,819.58 617.97,821.18"/><polygon points="622.55,839.14 624.15,840.74 625.75,839.14 624.15,837.54 625.75,835.94 624.15,834.34 622.55,835.94 620.95,834.34 619.35,835.94 620.95,837.54 619.35,839.14 620.95,840.74"/><polygon points="628.52,836.58 630.12,838.18 631.72,836.58 630.12,834.98 631.72,833.38 630.12,831.78 628.52,833.38 626.92,831.78 625.32,833.38 626.92,834.98 625.32,836.58 626.92,838.18"/><polygon points="640.44,853.19 642.04,854.79 643.64,853.19 642.04,851.59 643.64,849.99 642.04,848.39 640.44,849.99 638.84,848.39 637.24,849.99 638.84,851.59 637.24,853.19 638.84,854.79"/>
</g>
<g fill="#ff0000" stroke="none">
<circle cx="74.05" cy="904.71" r="3.85"/><circle cx="80.01" cy="908.3" r="3.85"/><circle cx="85.97" cy="906.31" r="3.85"/><circle cx="91.94" cy="906.59" r="3.85"/><circle cx="103.86" cy="911.25" r="3.85"/><circle cx="163.48" cy="911.71" r="3.85"/><circle cx="223.1" cy="907.61" r="3.85"/><circle cx="342.34" cy="896.41" r="3.85"/><circle cx="372.15" cy="893.34" r="3.85"/><circle cx="401.96" cy="893.79" r="3.85"/><circle cx="431.77" cy="890.32" r="3.85"/><circle cx="437.73" cy="888.84" r="3.85"/><circle cx="443.69" cy="878.04" r="3.85"/><circle cx="449.66" cy="869.85" r="3.85"/><circle cx="461.58" cy="860.07" r="3.85"/><circle cx="521.2" cy="841.41" r="3.85"/><circle cx="551.01" cy="840.22" r="3.85"/><circle cx="580.82" cy="837.37" r="3.85"/><circle cx="610.63" cy="828.67" r="3.85"/><circle cx="613.61" cy="727.09" r="3.85"/><circle cx="616.59" cy="706.11" r="3.85"/><circle cx="619.57" cy="762.7" r="3.85"/><circle cx="622.55" cy="786.81" r="3.85"/><circle cx="628.52" cy="796.25" r="3.85"/><circle cx="640.44" cy="809.85" r="3.85"/>
</g>
</g>
<g>
<g stroke="#d6d6d6" stroke-width="0.9" fill="none">
<line x1="59.5" y1="1254.4" x2="685" y2="1254.4"/>
<line x1="59.5" y1="1197.53" x2="685" y2="1197.53"/>
<line x1="59.5" y1="1140.65" x2="685" y2="1140.65"/>
<line x1="59.5" y1="1083.78" x2="685" y2="1083.78"/>
<line x1="59.5" y1="1026.9" x2="685" y2="1026.9"/>
</g>
<g stroke="#7a7a7a" stroke-width="1.2" fill="none">
<line x1="50" y1="1254.4" x2="59.5" y2="1254.4"/>
<line x1="50" y1="1197.53" x2="59.5" y2="1197.53"/>
<line x1="50" y1="1140.65" x2="59.5" y2="1140.65"/>
<line x1="50" y1="1083.78" x2="59.5" y2="1083.78"/>
<line x1="50" y1="1026.9" x2="59.5" y2="1026.9"/>
</g>
<line x1="59.5" y1="999.03" x2="59.5" y2="1272.63" stroke="#4d4d4d" stroke-width="1.2"/>
<text class="tk" transform="translate(42.8 1258.9) scale(1.09 1)" text-anchor="end">0</text>
<text class="tk" transform="translate(42.8 1202.03) scale(1.09 1)" text-anchor="end">1</text>
<text class="tk" transform="translate(42.8 1145.15) scale(1.09 1)" text-anchor="end">2</text>
<text class="tk" transform="translate(42.8 1088.28) scale(1.09 1)" text-anchor="end">3</text>
<text class="tk" transform="translate(42.8 1031.4) scale(1.09 1)" text-anchor="end">4</text>
<text class="tt" x="372.2" y="989.4" text-anchor="middle" textLength="36.8" lengthAdjust="spacingAndGlyphs">HED</text>
<path stroke="#0a0a0a" fill="none" stroke-width="1.4" d="M68.35 1214.99H79.75M68.35 1248.31H79.75M74.05 1248.14V1248.31M74.31 1217.83H85.71M74.31 1251.16H85.71M80.27 1217.83H91.67M80.27 1251.16H91.67M85.97 1251.04V1251.16M86.24 1217.26H97.64M86.24 1250.59H97.64M91.94 1249.17V1250.59M98.16 1219.54H109.56M98.16 1252.86H109.56M103.86 1252.81V1252.86M157.78 1220.39H169.18M157.78 1253.72H169.18M163.48 1220.39V1220.68M217.4 1216.41H228.8M217.4 1249.74H228.8M336.64 1209.75H348.04M336.64 1243.08H348.04M342.34 1239.89V1243.08M366.45 1208.73H377.85M366.45 1242.06H377.85M372.15 1238.87V1242.06M396.26 1208.33H407.66M396.26 1241.66H407.66M401.96 1236.82V1241.66M426.07 1207.71H437.47M426.07 1241.03H437.47M431.77 1233.75V1241.03M432.03 1204.01H443.43M432.03 1237.34H443.43M437.73 1231.53V1237.34M437.99 1199.52H449.39M437.99 1232.84H449.39M443.69 1224.54V1232.84M443.96 1189.96H455.36M443.96 1223.29H455.36M449.66 1211.68V1223.29M455.88 1188.71H467.28M455.88 1222.04H467.28M461.58 1207.19V1222.04M515.5 1179.78H526.9M515.5 1213.11H526.9M521.2 1195.08V1213.11M545.31 1179.21H556.71M545.31 1212.54H556.71M551.01 1193.37V1212.54M575.12 1174.09H586.52M575.12 1207.42H586.52M580.82 1190.87V1207.42M604.93 1171.02H616.33M604.93 1206.06H616.33M610.63 1187.57V1206.06M607.91 1126.89H619.31M607.91 1161.92H619.31M613.61 1148.33V1161.92M610.89 1050.62H622.29M610.89 1085.65H622.29M616.59 1050.62V1061.03M613.87 1116.14H625.27M613.87 1151.17H625.27M619.57 1116.14V1151.17M616.85 1140.31H628.25M616.85 1175.34H628.25M622.55 1146.11V1175.34M622.82 1151H634.22M622.82 1186.04H634.22M628.52 1158.73V1186.04M634.74 1165.16H646.14M634.74 1200.2H646.14M640.44 1173.69V1200.2"/>
<path stroke="#ff0000" fill="none" stroke-width="1.55" d="M68.35 1213.85H79.75M68.35 1248.54H79.75M74.05 1213.85V1248.54M74.31 1217.09H85.71M74.31 1251.78H85.71M80.01 1217.09V1251.78M80.27 1216.75H91.67M80.27 1251.44H91.67M85.97 1216.75V1251.44M86.24 1214.87H97.64M86.24 1249.57H97.64M91.94 1214.87V1249.57M98.16 1218.51H109.56M98.16 1253.21H109.56M103.86 1218.51V1253.21M157.78 1220.28H169.18M157.78 1254.97H169.18M163.48 1220.28V1254.97M217.4 1215.61H228.8M217.4 1250.31H228.8M223.1 1215.61V1250.31M336.64 1205.6H348.04M336.64 1240.3H348.04M342.34 1205.6V1240.3M366.45 1204.58H377.85M366.45 1239.27H377.85M372.15 1204.58V1239.27M396.26 1202.53H407.66M396.26 1237.22H407.66M401.96 1202.53V1237.22M426.07 1199.46H437.47M426.07 1234.15H437.47M431.77 1199.46V1234.15M432.03 1197.24H443.43M432.03 1231.93H443.43M437.73 1197.24V1231.93M437.99 1190.25H449.39M437.99 1224.94H449.39M443.69 1190.25V1224.94M443.96 1177.39H455.36M443.96 1212.09H455.36M449.66 1177.39V1212.09M455.88 1172.9H467.28M455.88 1207.59H467.28M461.58 1172.9V1207.59M515.5 1160.22H526.9M515.5 1195.48H526.9M521.2 1160.22V1195.48M545.31 1158.51H556.71M545.31 1193.77H556.71M551.01 1158.51V1193.77M575.12 1156.01H586.52M575.12 1191.27H586.52M580.82 1156.01V1191.27M604.93 1149.64H616.33M604.93 1187.97H616.33M610.63 1149.64V1187.97M607.91 1111.76H619.31M607.91 1148.73H619.31M613.61 1111.76V1148.73M610.89 1060.63H622.29M610.89 1097.6H622.29M616.59 1060.63V1097.6M613.87 1059.38H625.27M613.87 1096.34H625.27M619.57 1059.38V1096.34M616.85 1109.54H628.25M616.85 1146.51H628.25M622.55 1109.54V1146.51M622.82 1122.17H634.22M622.82 1159.13H634.22M628.52 1122.17V1159.13M634.74 1137.12H646.14M634.74 1174.09H646.14M640.44 1137.12V1174.09"/>
<g stroke="#0a0a0a" fill="none">
<polyline stroke-width="1.25" stroke-linejoin="round" stroke-dasharray="15.4 8.15" points="74.05,1231.65 80.01,1234.49 85.97,1234.49 91.94,1233.93 103.86,1236.2 163.48,1237.05 223.1,1233.07 342.34,1226.42 372.15,1225.39 401.96,1225 431.77,1224.37 437.73,1220.67 443.69,1216.18 449.66,1206.62 461.58,1205.37 521.2,1196.44 551.01,1195.88 580.82,1190.76 610.63,1188.54 613.61,1144.4 616.59,1068.13 619.57,1133.65 622.55,1157.83 628.52,1168.52"/>
<line stroke-width="1.25" stroke-dasharray="15.4 8.15" stroke-dashoffset="14.95" x1="628.52" y1="1168.52" x2="640.44" y2="1182.68"/>
</g>
<g stroke="#ff0000" fill="none">
<polyline stroke-width="1.15" stroke-linejoin="round" points="74.05,1231.2 80.01,1234.44 85.97,1234.1 91.94,1232.22 103.86,1235.86 163.48,1237.62 223.1,1232.96 342.34,1222.95 372.15,1221.92 401.96,1219.88 431.77,1216.81 437.73,1214.59 443.69,1207.59 449.66,1194.74 461.58,1190.25 521.2,1177.85 551.01,1176.14 580.82,1173.64 610.63,1168.8 613.61,1130.24 616.59,1079.11 619.57,1077.86 622.55,1128.02 628.52,1140.65 640.44,1155.61"/>
</g>
<g fill="#0a0a0a" stroke="none">
<polygon points="74.05,1233.25 75.65,1234.85 77.25,1233.25 75.65,1231.65 77.25,1230.05 75.65,1228.45 74.05,1230.05 72.45,1228.45 70.85,1230.05 72.45,1231.65 70.85,1233.25 72.45,1234.85"/><polygon points="80.01,1236.09 81.61,1237.69 83.21,1236.09 81.61,1234.49 83.21,1232.89 81.61,1231.29 80.01,1232.89 78.41,1231.29 76.81,1232.89 78.41,1234.49 76.81,1236.09 78.41,1237.69"/><polygon points="85.97,1236.09 87.57,1237.69 89.17,1236.09 87.57,1234.49 89.17,1232.89 87.57,1231.29 85.97,1232.89 84.37,1231.29 82.77,1232.89 84.37,1234.49 82.77,1236.09 84.37,1237.69"/><polygon points="91.94,1235.53 93.54,1237.13 95.14,1235.53 93.54,1233.93 95.14,1232.33 93.54,1230.73 91.94,1232.33 90.34,1230.73 88.74,1232.33 90.34,1233.93 88.74,1235.53 90.34,1237.13"/><polygon points="103.86,1237.8 105.46,1239.4 107.06,1237.8 105.46,1236.2 107.06,1234.6 105.46,1233 103.86,1234.6 102.26,1233 100.66,1234.6 102.26,1236.2 100.66,1237.8 102.26,1239.4"/><polygon points="163.48,1238.65 165.08,1240.25 166.68,1238.65 165.08,1237.05 166.68,1235.45 165.08,1233.85 163.48,1235.45 161.88,1233.85 160.28,1235.45 161.88,1237.05 160.28,1238.65 161.88,1240.25"/><polygon points="223.1,1234.67 224.7,1236.27 226.3,1234.67 224.7,1233.07 226.3,1231.47 224.7,1229.87 223.1,1231.47 221.5,1229.87 219.9,1231.47 221.5,1233.07 219.9,1234.67 221.5,1236.27"/><polygon points="342.34,1228.02 343.94,1229.62 345.54,1228.02 343.94,1226.42 345.54,1224.82 343.94,1223.22 342.34,1224.82 340.74,1223.22 339.14,1224.82 340.74,1226.42 339.14,1228.02 340.74,1229.62"/><polygon points="372.15,1226.99 373.75,1228.59 375.35,1226.99 373.75,1225.39 375.35,1223.79 373.75,1222.19 372.15,1223.79 370.55,1222.19 368.95,1223.79 370.55,1225.39 368.95,1226.99 370.55,1228.59"/><polygon points="401.96,1226.6 403.56,1228.2 405.16,1226.6 403.56,1225 405.16,1223.4 403.56,1221.8 401.96,1223.4 400.36,1221.8 398.76,1223.4 400.36,1225 398.76,1226.6 400.36,1228.2"/><polygon points="431.77,1225.97 433.37,1227.57 434.97,1225.97 433.37,1224.37 434.97,1222.77 433.37,1221.17 431.77,1222.77 430.17,1221.17 428.57,1222.77 430.17,1224.37 428.57,1225.97 430.17,1227.57"/><polygon points="437.73,1222.27 439.33,1223.87 440.93,1222.27 439.33,1220.67 440.93,1219.07 439.33,1217.47 437.73,1219.07 436.13,1217.47 434.53,1219.07 436.13,1220.67 434.53,1222.27 436.13,1223.87"/><polygon points="443.69,1217.78 445.29,1219.38 446.89,1217.78 445.29,1216.18 446.89,1214.58 445.29,1212.98 443.69,1214.58 442.09,1212.98 440.49,1214.58 442.09,1216.18 440.49,1217.78 442.09,1219.38"/><polygon points="449.66,1208.22 451.26,1209.83 452.86,1208.22 451.26,1206.62 452.86,1205.03 451.26,1203.42 449.66,1205.03 448.06,1203.42 446.46,1205.03 448.06,1206.62 446.46,1208.22 448.06,1209.83"/><polygon points="461.58,1206.97 463.18,1208.57 464.78,1206.97 463.18,1205.37 464.78,1203.77 463.18,1202.17 461.58,1203.77 459.98,1202.17 458.38,1203.77 459.98,1205.37 458.38,1206.97 459.98,1208.57"/><polygon points="521.2,1198.04 522.8,1199.64 524.4,1198.04 522.8,1196.44 524.4,1194.84 522.8,1193.24 521.2,1194.84 519.6,1193.24 518,1194.84 519.6,1196.44 518,1198.04 519.6,1199.64"/><polygon points="551.01,1197.48 552.61,1199.08 554.21,1197.48 552.61,1195.88 554.21,1194.28 552.61,1192.68 551.01,1194.28 549.41,1192.68 547.81,1194.28 549.41,1195.88 547.81,1197.48 549.41,1199.08"/><polygon points="580.82,1192.36 582.42,1193.96 584.02,1192.36 582.42,1190.76 584.02,1189.16 582.42,1187.56 580.82,1189.16 579.22,1187.56 577.62,1189.16 579.22,1190.76 577.62,1192.36 579.22,1193.96"/><polygon points="610.63,1190.14 612.23,1191.74 613.83,1190.14 612.23,1188.54 613.83,1186.94 612.23,1185.34 610.63,1186.94 609.03,1185.34 607.43,1186.94 609.03,1188.54 607.43,1190.14 609.03,1191.74"/><polygon points="613.61,1146 615.21,1147.6 616.81,1146 615.21,1144.4 616.81,1142.8 615.21,1141.2 613.61,1142.8 612.01,1141.2 610.41,1142.8 612.01,1144.4 610.41,1146 612.01,1147.6"/><polygon points="616.59,1069.73 618.19,1071.33 619.79,1069.73 618.19,1068.13 619.79,1066.53 618.19,1064.93 616.59,1066.53 614.99,1064.93 613.39,1066.53 614.99,1068.13 613.39,1069.73 614.99,1071.33"/><polygon points="619.57,1135.25 621.17,1136.85 622.77,1135.25 621.17,1133.65 622.77,1132.05 621.17,1130.45 619.57,1132.05 617.97,1130.45 616.37,1132.05 617.97,1133.65 616.37,1135.25 617.97,1136.85"/><polygon points="622.55,1159.43 624.15,1161.03 625.75,1159.43 624.15,1157.83 625.75,1156.23 624.15,1154.63 622.55,1156.23 620.95,1154.63 619.35,1156.23 620.95,1157.83 619.35,1159.43 620.95,1161.03"/><polygon points="628.52,1170.12 630.12,1171.72 631.72,1170.12 630.12,1168.52 631.72,1166.92 630.12,1165.32 628.52,1166.92 626.92,1165.32 625.32,1166.92 626.92,1168.52 625.32,1170.12 626.92,1171.72"/><polygon points="640.44,1184.28 642.04,1185.88 643.64,1184.28 642.04,1182.68 643.64,1181.08 642.04,1179.48 640.44,1181.08 638.84,1179.48 637.24,1181.08 638.84,1182.68 637.24,1184.28 638.84,1185.88"/>
</g>
<g fill="#ff0000" stroke="none">
<circle cx="74.05" cy="1231.2" r="3.85"/><circle cx="80.01" cy="1234.44" r="3.85"/><circle cx="85.97" cy="1234.1" r="3.85"/><circle cx="91.94" cy="1232.22" r="3.85"/><circle cx="103.86" cy="1235.86" r="3.85"/><circle cx="163.48" cy="1237.62" r="3.85"/><circle cx="223.1" cy="1232.96" r="3.85"/><circle cx="342.34" cy="1222.95" r="3.85"/><circle cx="372.15" cy="1221.92" r="3.85"/><circle cx="401.96" cy="1219.88" r="3.85"/><circle cx="431.77" cy="1216.81" r="3.85"/><circle cx="437.73" cy="1214.59" r="3.85"/><circle cx="443.69" cy="1207.59" r="3.85"/><circle cx="449.66" cy="1194.74" r="3.85"/><circle cx="461.58" cy="1190.25" r="3.85"/><circle cx="521.2" cy="1177.85" r="3.85"/><circle cx="551.01" cy="1176.14" r="3.85"/><circle cx="580.82" cy="1173.64" r="3.85"/><circle cx="610.63" cy="1168.8" r="3.85"/><circle cx="613.61" cy="1130.24" r="3.85"/><circle cx="616.59" cy="1079.11" r="3.85"/><circle cx="619.57" cy="1077.86" r="3.85"/><circle cx="622.55" cy="1128.02" r="3.85"/><circle cx="628.52" cy="1140.65" r="3.85"/><circle cx="640.44" cy="1155.61" r="3.85"/>
</g>
</g>
<g stroke="#7a7a7a" stroke-width="1.2" fill="none">
<line x1="74.05" y1="1271.4" x2="74.05" y2="1280.9"/>
<line x1="103.86" y1="1271.4" x2="103.86" y2="1276.2"/>
<line x1="133.67" y1="1271.4" x2="133.67" y2="1280.9"/>
<line x1="163.48" y1="1271.4" x2="163.48" y2="1276.2"/>
<line x1="193.29" y1="1271.4" x2="193.29" y2="1280.9"/>
<line x1="223.1" y1="1271.4" x2="223.1" y2="1276.2"/>
<line x1="252.91" y1="1271.4" x2="252.91" y2="1280.9"/>
<line x1="282.72" y1="1271.4" x2="282.72" y2="1276.2"/>
<line x1="312.53" y1="1271.4" x2="312.53" y2="1280.9"/>
<line x1="342.34" y1="1271.4" x2="342.34" y2="1276.2"/>
<line x1="372.15" y1="1271.4" x2="372.15" y2="1280.9"/>
<line x1="401.96" y1="1271.4" x2="401.96" y2="1276.2"/>
<line x1="431.77" y1="1271.4" x2="431.77" y2="1280.9"/>
<line x1="461.58" y1="1271.4" x2="461.58" y2="1276.2"/>
<line x1="491.39" y1="1271.4" x2="491.39" y2="1280.9"/>
<line x1="521.2" y1="1271.4" x2="521.2" y2="1276.2"/>
<line x1="551.01" y1="1271.4" x2="551.01" y2="1280.9"/>
<line x1="580.82" y1="1271.4" x2="580.82" y2="1276.2"/>
<line x1="610.63" y1="1271.4" x2="610.63" y2="1280.9"/>
<line x1="640.44" y1="1271.4" x2="640.44" y2="1276.2"/>
<line x1="670.25" y1="1271.4" x2="670.25" y2="1280.9"/>
</g>
<line x1="58.9" y1="1271.4" x2="685" y2="1271.4" stroke="#4d4d4d" stroke-width="1.2"/>
<text class="tk" transform="translate(73.65 1299.2) scale(1.09 1)" text-anchor="middle">0</text>
<text class="tk" transform="translate(133.27 1299.2) scale(1.09 1)" text-anchor="middle">20</text>
<text class="tk" transform="translate(192.89 1299.2) scale(1.09 1)" text-anchor="middle">40</text>
<text class="tk" transform="translate(252.51 1299.2) scale(1.09 1)" text-anchor="middle">60</text>
<text class="tk" transform="translate(312.13 1299.2) scale(1.09 1)" text-anchor="middle">80</text>
<text class="tk" transform="translate(371.75 1299.2) scale(1.09 1)" text-anchor="middle">100</text>
<text class="tk" transform="translate(431.37 1299.2) scale(1.09 1)" text-anchor="middle">120</text>
<text class="tk" transform="translate(490.99 1299.2) scale(1.09 1)" text-anchor="middle">140</text>
<text class="tk" transform="translate(550.61 1299.2) scale(1.09 1)" text-anchor="middle">160</text>
<text class="tk" transform="translate(610.23 1299.2) scale(1.09 1)" text-anchor="middle">180</text>
<text class="tk" transform="translate(669.85 1299.2) scale(1.09 1)" text-anchor="middle">200</text>
<text class="al" x="373" y="1327" text-anchor="middle" textLength="85.6" lengthAdjust="spacingAndGlyphs">Time (min)</text>
<text class="yl" transform="translate(13.8 661) rotate(-90)" text-anchor="middle" textLength="363.7" lengthAdjust="spacingAndGlyphs">Insulin secretion rate (pmol/kg/min/mmol/l)</text>
<line x1="154.6" y1="1358.1" x2="218" y2="1358.1" stroke="#0a0a0a" stroke-width="1.25" stroke-dasharray="15.4 8.2"/>
<g fill="#0a0a0a"><polygon points="186.3,1359.95 188.15,1361.8 190,1359.95 188.15,1358.1 190,1356.25 188.15,1354.4 186.3,1356.25 184.45,1354.4 182.6,1356.25 184.45,1358.1 182.6,1359.95 184.45,1361.8"/></g>
<text class="lg" x="225.6" y="1363.4" textLength="67.3" lengthAdjust="spacingAndGlyphs">Baseline</text>
<line x1="342.5" y1="1358.1" x2="404.8" y2="1358.1" stroke="#ff0000" stroke-width="1.15"/>
<circle cx="373.7" cy="1358.1" r="4.1" fill="#ff0000"/>
<text class="lg" x="412.4" y="1363.4" textLength="152.2" lengthAdjust="spacingAndGlyphs">16-week follow–up</text>
</svg>
</body>
</html>
